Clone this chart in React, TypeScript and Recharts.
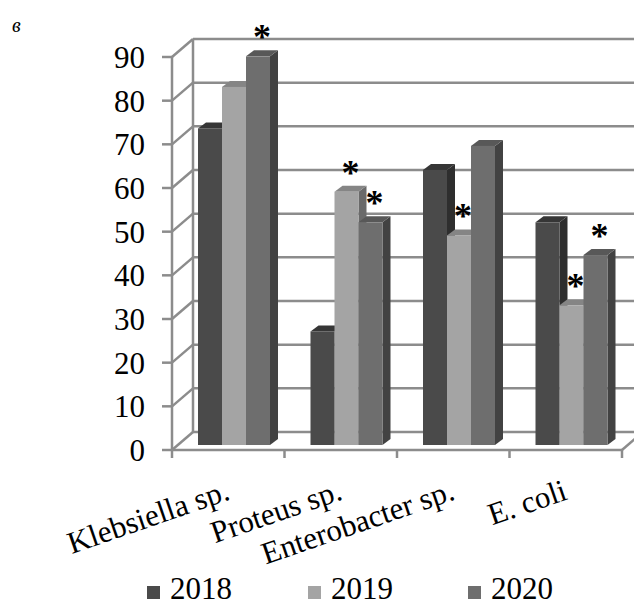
import { BarChart, Bar, XAxis, YAxis, CartesianGrid, Legend, LabelList } from 'recharts';

const categories = ['Klebsiella sp.', 'Proteus sp.', 'Enterobacter sp.', 'E. coli'];
const years = ['2018', '2019', '2020'];
const values2018 = [72.5, 26, 63, 51];
const values2019 = [82, 58, 48, 32];
const values2020 = [89, 51, 68.5, 43.5];
// significance marks (*) per category
const marked2018 = [false, false, false, false];
const marked2019 = [false, true, true, true];
const marked2020 = [true, true, false, true];
const yTicks = [0, 10, 20, 30, 40, 50, 60, 70, 80, 90];

const data = categories.map((name, i) => ({
  name,
  '2018': values2018[i],
  '2019': values2019[i],
  '2020': values2020[i],
}));

const FONT = '"Liberation Serif", "DejaVu Serif", "Times New Roman", serif';

const W = 634;
const H = 597;
const PLOT_LEFT = 164;
const PLOT_W = 450;
const BAND = PLOT_W / categories.length;

// pseudo-3D offsets
const WALL_DX = 21;
const WALL_DY = -18;
const FACE_DX = 6;
const FACE_DY = -5;
const DEPTH_DX = 8;
const DEPTH_DY = -6;

const LINE = '#8c8c8c';
const LINE_W = 2.5;

const palette = {
  '2018': { front: '#4a4a4a', top: '#363636', side: '#2e2e2e' },
  '2019': { front: '#a4a4a4', top: '#858585', side: '#6a6a6a' },
  '2020': { front: '#6e6e6e', top: '#585858', side: '#424242' },
};

const makeBox = (c: { front: string; top: string; side: string }) => (props: any) => {
  const { x, y, width, height } = props;
  if (height == null || height <= 0) return <g />;
  const fx = x + FACE_DX;
  const fy = y + FACE_DY;
  const r = fx + width;
  const b = fy + height;
  return (
    <g>
      <polygon
        points={`${r},${fy} ${r + DEPTH_DX},${fy + DEPTH_DY} ${r + DEPTH_DX},${b + DEPTH_DY} ${r},${b}`}
        fill={c.side}
      />
      <polygon
        points={`${fx},${fy} ${r},${fy} ${r + DEPTH_DX},${fy + DEPTH_DY} ${fx + DEPTH_DX},${fy + DEPTH_DY}`}
        fill={c.top}
      />
      <rect x={fx} y={fy} width={width} height={height} fill={c.front} />
    </g>
  );
};

const makeStar = (marks: boolean[]) => (props: any) => {
  const { x, y, width, index } = props;
  if (!marks[index]) return null;
  return (
    <text
      key={`star-${index}`}
      x={x + FACE_DX + width / 2 + 4}
      y={y + FACE_DY - 7}
      textAnchor="middle"
      fontSize={36}
      fontWeight="bold"
      fontFamily={FONT}
      fill="#000"
    >
      *
    </text>
  );
};

// back wall lines plus the connectors on the left wall
const renderHorizontal = (p: any) => {
  const { x1, y1, x2 } = p;
  return (
    <g key={`h-${y1}`}>
      <line x1={x1} y1={y1} x2={x1 + WALL_DX} y2={y1 + WALL_DY} stroke={LINE} strokeWidth={LINE_W} />
      <line x1={x1 + WALL_DX} y1={y1 + WALL_DY} x2={x2 + WALL_DX} y2={y1 + WALL_DY} stroke={LINE} strokeWidth={LINE_W} />
    </g>
  );
};

// back wall left edge and the floor's right edge
const renderVertical = (p: any) => {
  const { x1, y1, y2 } = p;
  if (Math.abs(x1 - PLOT_LEFT) < 1) {
    return (
      <line key="v-wall" x1={x1 + WALL_DX} y1={y1 + WALL_DY} x2={x1 + WALL_DX} y2={y2 + WALL_DY} stroke={LINE} strokeWidth={LINE_W} />
    );
  }
  return (
    <line key="v-floor" x1={x1} y1={y2} x2={x1 + WALL_DX} y2={y2 + WALL_DY} stroke={LINE} strokeWidth={LINE_W} />
  );
};

const CategoryTick = (props: any) => {
  const { x, y, payload, index } = props;
  const left = x - BAND / 2;
  const ax = x + 3;
  const ay = y + 49;
  return (
    <g>
      <line x1={left} y1={y} x2={left} y2={y + 8} stroke={LINE} strokeWidth={LINE_W} />
      {index === categories.length - 1 && (
        <line x1={left + BAND} y1={y} x2={left + BAND} y2={y + 8} stroke={LINE} strokeWidth={LINE_W} />
      )}
      <text
        x={ax}
        y={ay}
        textAnchor="end"
        fontSize={31}
        fontFamily={FONT}
        fill="#000"
        transform={`rotate(-19, ${ax}, ${ay})`}
      >
        {payload.value}
      </text>
    </g>
  );
};

const legendLeft = [139, 300, 460];

const renderLegend = () => (
  <div style={{ position: 'relative', height: 30, fontFamily: FONT }}>
    {years.map((yr, i) => (
      <div
        key={yr}
        style={{
          position: 'absolute',
          left: legendLeft[i],
          top: 0,
          height: 30,
          lineHeight: '30px',
          fontSize: 31,
          color: '#000',
          whiteSpace: 'nowrap',
        }}
      >
        <span
          style={{
            display: 'inline-block',
            width: 13,
            height: 13,
            marginRight: 10,
            background: palette[yr as keyof typeof palette].front,
          }}
        />
        {yr}
      </div>
    ))}
  </div>
);

export default function App() {
  return (
    <div
      style={{
        position: 'relative',
        width: W,
        height: H,
        fontFamily: FONT,
        background: '#fff',
      }}
    >
      <span style={{ position: 'absolute', left: 4, top: 6, fontSize: 20, fontStyle: 'italic', fontFamily: FONT }}>в</span>
      <BarChart
        width={W}
        height={H}
        data={data}
        margin={{ top: 49, right: 20, bottom: 0, left: 0 }}
        barCategoryGap={20}
        barGap={0}
      >
        <CartesianGrid
          horizontal={renderHorizontal}
          vertical={renderVertical}
          verticalCoordinatesGenerator={({ offset }: any) => [offset.left, offset.left + offset.width]}
        />
        <XAxis
          dataKey="name"
          interval={0}
          height={125}
          tickSize={0}
          tickMargin={0}
          tickLine={false}
          axisLine={{ stroke: LINE, strokeWidth: LINE_W }}
          tick={<CategoryTick />}
        />
        <YAxis
          domain={[0, 90]}
          ticks={yTicks}
          width={164}
          tickSize={10}
          tickMargin={17}
          axisLine={{ stroke: LINE, strokeWidth: LINE_W }}
          tickLine={{ stroke: LINE, strokeWidth: LINE_W }}
          tick={{ fontSize: 31, fill: '#000', fontFamily: FONT }}
        />
        <Legend content={renderLegend} wrapperStyle={{ top: 566, left: 0, width: W, height: 30 }} />
        <Bar dataKey="2018" fill={palette['2018'].front} shape={makeBox(palette['2018'])} isAnimationActive={false}>
          <LabelList dataKey="2018" content={makeStar(marked2018)} />
        </Bar>
        <Bar dataKey="2019" fill={palette['2019'].front} shape={makeBox(palette['2019'])} isAnimationActive={false}>
          <LabelList dataKey="2019" content={makeStar(marked2019)} />
        </Bar>
        <Bar dataKey="2020" fill={palette['2020'].front} shape={makeBox(palette['2020'])} isAnimationActive={false}>
          <LabelList dataKey="2020" content={makeStar(marked2020)} />
        </Bar>
      </BarChart>
    </div>
  );
}
